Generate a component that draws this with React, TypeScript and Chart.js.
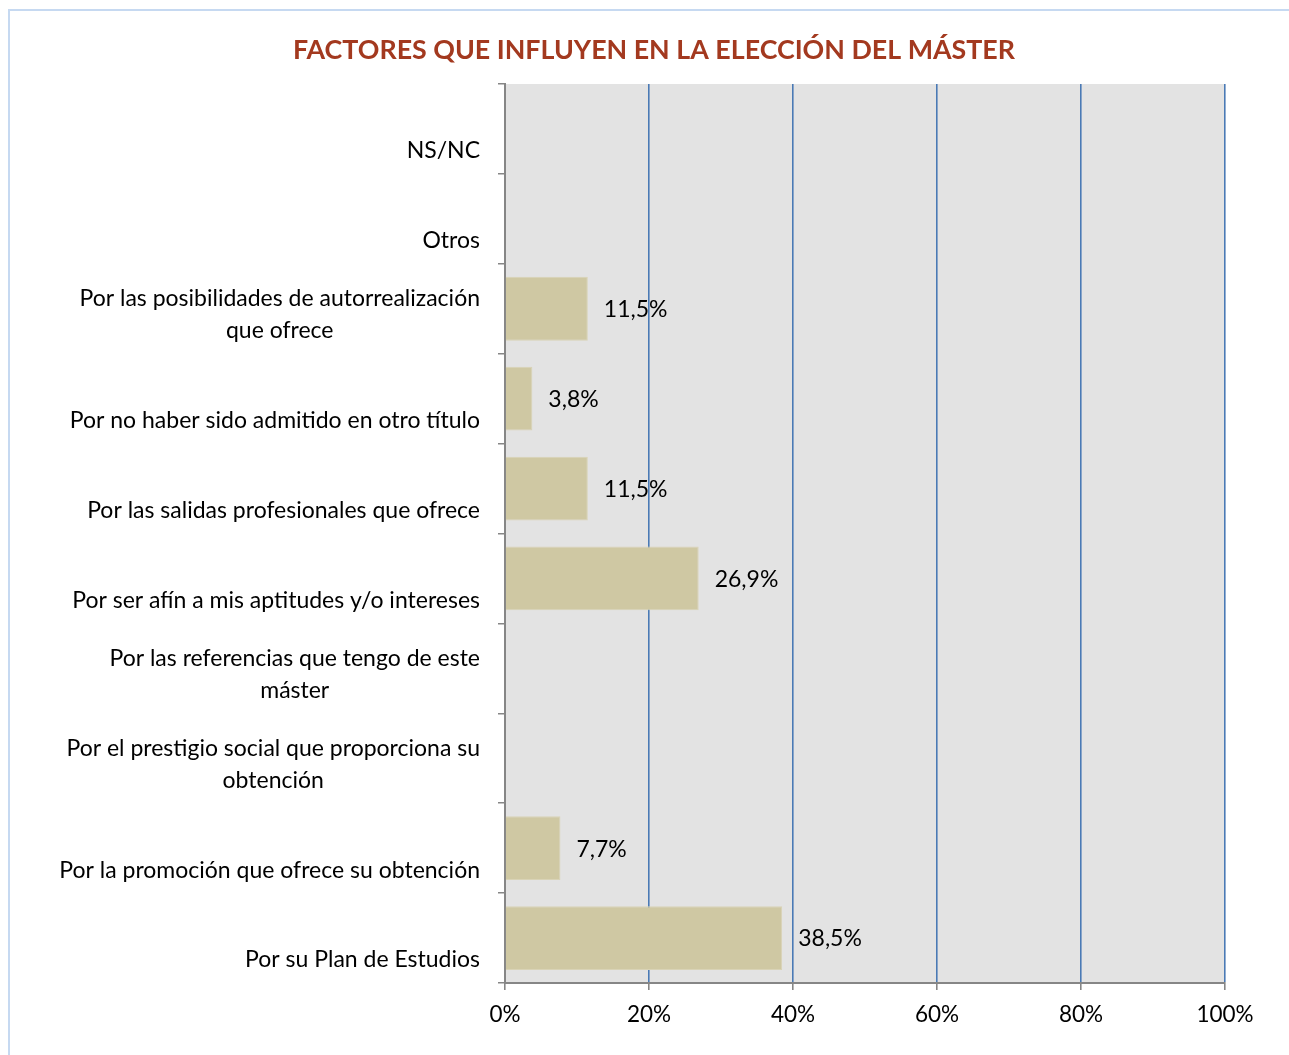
import React, { useEffect, useRef } from "react";
import { Chart, registerables } from "chart.js";

Chart.register(...registerables);

const categories: string[][] = [
  ["NS/NC"],
  ["Otros"],
  ["Por las posibilidades de autorrealización", "que ofrece"],
  ["Por no haber sido admitido en otro título"],
  ["Por las salidas profesionales que ofrece"],
  ["Por ser afín a mis aptitudes y/o intereses"],
  ["Por las referencias que tengo de este", "máster"],
  ["Por el prestigio social que proporciona su", "obtención"],
  ["Por la promoción que ofrece su obtención"],
  ["Por su Plan de Estudios"],
];

const values: number[] = [0, 0, 11.5, 3.8, 11.5, 26.9, 0, 0, 7.7, 38.5];

const xTicks: number[] = [0, 20, 40, 60, 80, 100];

const TITLE = "FACTORES QUE INFLUYEN EN LA ELECCIÓN DEL MÁSTER";
const FONT = "Lato, 'Open Sans', sans-serif";

const bgPlugin = {
  id: "plotBg",
  beforeDraw(chart: any) {
    const { ctx, chartArea } = chart;
    ctx.save();
    ctx.fillStyle = "#e3e3e3";
    ctx.fillRect(chartArea.left, chartArea.top, chartArea.right - chartArea.left, chartArea.bottom - chartArea.top);
    ctx.restore();
  },
};

const overlayPlugin = {
  id: "overlay",
  afterDraw(chart: any) {
    const { ctx } = chart;
    ctx.save();
    ctx.fillStyle = "#a3391f";
    ctx.font = `bold 26.8px ${FONT}`;
    ctx.textAlign = "center";
    ctx.textBaseline = "middle";
    ctx.fillText(TITLE, 654, 50);

    // category labels: block right-aligned, lines centred within block
    const yScale = chart.scales.y;
    ctx.fillStyle = "#000";
    ctx.font = `23px ${FONT}`;
    const rightEdge = yScale.right - 7 - 18;
    const lh = 32;
    categories.forEach((lines, i) => {
      const cy = yScale.getPixelForValue(i);
      const widths = lines.map((l) => ctx.measureText(l).width);
      const bw = Math.max(...widths);
      const cx = rightEdge - bw / 2;
      const startY = lines.length === 1 ? cy + 22 : cy + 6 - ((lines.length - 1) * lh) / 2;
      ctx.textAlign = "center";
      lines.forEach((l, j) => {
        ctx.fillText(l, cx, startY + j * lh);
      });
    });

    const meta = chart.getDatasetMeta(0);
    ctx.fillStyle = "#000";
    ctx.font = `23px ${FONT}`;
    ctx.textAlign = "left";
    meta.data.forEach((bar: any, i: number) => {
      const v = values[i];
      if (!v) return;
      ctx.fillText(v.toFixed(1).replace(".", ",") + "%", bar.x + 16, bar.y + 1);
    });
    ctx.restore();
  },
};

export default function App() {
  const ref = useRef<HTMLCanvasElement>(null);
  useEffect(() => {
    if (!ref.current) return;
    const chart = new Chart(ref.current, {
      type: "bar",
      data: {
        labels: categories.map((c) => c.join(" ")),
        datasets: [
          {
            data: values,
            backgroundColor: "#cfc8a3",
            borderColor: "#d9d3b6",
            borderWidth: 1,
            categoryPercentage: 0.71,
            barPercentage: 1,
          },
        ],
      },
      options: {
        indexAxis: "y",
        animation: false,
        responsive: false,
        maintainAspectRatio: false,
        layout: { padding: { left: 0, right: 64, top: 84, bottom: 0 } },
        plugins: {
          legend: { display: false },
          title: { display: false },
          tooltip: { enabled: false },
        },
        scales: {
          x: {
            min: 0,
            max: 100,
            afterBuildTicks(scale: any) {
              scale.ticks = xTicks.map((v) => ({ value: v }));
            },
            afterFit(scale: any) {
              scale.height = 72;
            },
            ticks: {
              callback: (v: any) => v + "%",
              color: "#000",
              font: { family: FONT, size: 22.5 },
              padding: 11,
              maxRotation: 0,
            },
            grid: {
              color: (c: any) => (c.index === 0 ? "rgba(0,0,0,0)" : "#4a7ab5"),
              tickColor: "#868686",
              lineWidth: 1.6,
              tickLength: 7,
              drawTicks: true,
            },
            border: { display: true, color: "#868686", width: 2 },
          },
          y: {
            afterFit(scale: any) {
              scale.width = 505;
            },
            ticks: {
              display: false,
            },
            grid: {
              drawOnChartArea: false,
              drawTicks: true,
              tickLength: 7,
              color: "#868686",
              lineWidth: 1.5,
            },
            border: { display: true, color: "#868686", width: 2 },
          },
        },
      },
      plugins: [bgPlugin, overlayPlugin],
    });
    return () => chart.destroy();
  }, []);

  return (
    <div style={{ position: "fixed", left: 0, top: 0, width: 1289, height: 1055, background: "#fff" }}>
      <div
        style={{
          position: "absolute",
          left: 8,
          top: 9,
          width: 1300,
          height: 1100,
          borderLeft: "2px solid #c6d9f1",
          borderTop: "2px solid #c6d9f1",
        }}
      />
      <canvas ref={ref} width={1289} height={1055} style={{ position: "absolute", left: 0, top: 0 }} />
    </div>
  );
}
